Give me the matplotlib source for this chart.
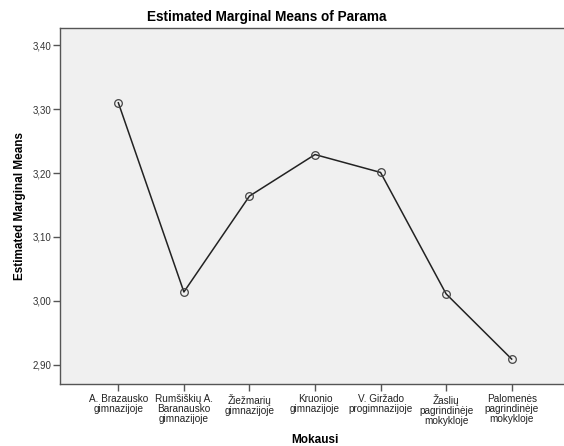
import matplotlib.pyplot as plt
import matplotlib.ticker as mticker

plt.rcParams['font.family'] = ['Liberation Sans', 'DejaVu Sans']

# data
schools = ['A. Brazausko\ngimnazijoje', 'Rumšiškių A.\nBaranausko\ngimnazijoje',
           'Žiežmarių\ngimnazijoje', 'Kruonio\ngimnazijoje', 'V. Giržado\nprogimnazijoje',
           'Žaslių\npagrindinėje\nmokykloje', 'Palomenės\npagrindinėje\nmokykloje']
means = [3.310, 3.014, 3.164, 3.229, 3.201, 3.011, 2.909]
yticks = [2.90, 3.00, 3.10, 3.20, 3.30, 3.40]

fig = plt.figure(figsize=(5.64, 4.46), dpi=100)
ax = fig.add_axes([60/564, 1 - 384/446, 510/564, 356/446])
ax.set_facecolor('#f0f0f0')

x = list(range(len(schools)))
ax.plot(x, means, color='#222222', lw=1.1, marker='o', ms=5.5,
        mfc='none', mec='#444444', mew=0.9)

ax.set_xlim(-0.89, 6.89)
ax.set_ylim(2.870, 3.427)
ax.set_yticks(yticks)
ax.yaxis.set_major_formatter(mticker.FuncFormatter(lambda v, p: f'{v:.2f}'.replace('.', ',')))
ax.set_xticks(x)
ax.set_xticklabels(schools, fontsize=7.2, linespacing=1.0, color='#222222')

for s in ax.spines.values():
    s.set_color('#555555')
    s.set_linewidth(1.0)
ax.tick_params(axis='both', direction='out', length=5, width=1, color='#555555')
ax.tick_params(axis='y', labelsize=7, labelcolor='#333333', pad=1)
ax.tick_params(axis='x', pad=2)

ax.set_ylabel('Estimated Marginal Means', fontsize=8.5, fontweight='bold', labelpad=5)
ax.set_xlabel('Mokausi', fontsize=8.5, fontweight='bold', labelpad=6)
fig.text(267/564, 1 - 17/446, 'Estimated Marginal Means of Parama', ha='center', va='center',
         fontsize=9.8, fontweight='bold')

fig.savefig('out.png', dpi=100)
